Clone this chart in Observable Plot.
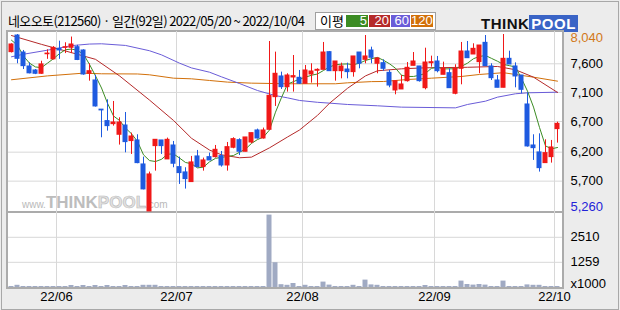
<!DOCTYPE html>
<html><head><meta charset="utf-8">
<script src="https://cdn.jsdelivr.net/npm/d3@7"></script>
<script src="https://cdn.jsdelivr.net/npm/@observablehq/plot@0.6"></script>
<style>
body{margin:0;background:#fff;}
#wrap{position:relative;width:620px;height:310px;background:#ececec;overflow:hidden;font-family:"Liberation Sans",Arial,sans-serif;}
#outer{position:absolute;left:1px;top:1px;width:618px;height:309px;border:1px solid #a8a8a8;box-sizing:border-box;}
#title{position:absolute;left:8px;top:12px;font:13px "Noto Sans CJK KR",sans-serif;letter-spacing:-0.6px;color:#000;white-space:nowrap;line-height:18px;}
#panel{position:absolute;left:6px;top:30px;width:558px;height:259px;border:2px solid #ababab;background:#fff;box-sizing:border-box;}
#divider{position:absolute;left:8px;top:211px;width:554px;height:2px;background:#ababab;}
#legend{position:absolute;left:315px;top:12px;width:121px;height:18px;border:1px solid #a0a0a0;background:#fff;box-sizing:border-box;}
#legend .lb{position:absolute;left:4px;top:-1px;font:13px "Noto Sans CJK KR",sans-serif;line-height:17px;}
#legend .sw{position:absolute;top:2px;height:12px;color:#fff;font:13px "Liberation Sans",sans-serif;line-height:12px;text-align:right;padding-right:1px;box-sizing:border-box;}
#logo{position:absolute;left:481px;top:15px;height:14px;white-space:nowrap;font-weight:bold;font-family:"Liberation Sans",sans-serif;}
#logo .t{color:#111;font-size:15px;letter-spacing:0.5px;}
#logo .p{background:#3a64c6;color:#fff;font-size:15px;padding:0 2px;letter-spacing:0.5px;}
#wm{position:absolute;left:22px;top:193px;white-space:nowrap;font-family:"Liberation Sans",sans-serif;font-weight:bold;color:#bdbdbd;}
#wm .s{font-size:10px;font-weight:normal;color:#b9b9b9;}
#wm .b{font-size:17px;}
#wm .o{font-size:17px;color:#e2e2e2;-webkit-text-stroke:0.6px #b8b8b8;}
.plot{position:absolute;left:0;}
</style></head>
<body>
<div id="wrap">
  <div id="outer"></div>
  <div id="title">네오오토(212560) · 일간(92일) 2022/05/20 ~ 2022/10/04</div>
  <div id="legend">
    <span class="lb">이평</span>
    <span class="sw" style="left:30px;width:22px;background:#3c8c24">5</span>
    <span class="sw" style="left:53px;width:21px;background:#b52a2a">20</span>
    <span class="sw" style="left:75px;width:19px;background:#6a5cd8">60</span>
    <span class="sw" style="left:95px;width:22px;background:#d2700a">120</span>
  </div>
  <div id="logo"><span class="t">THINK</span><span class="p">POOL</span></div>
  <div id="panel"></div>
  <div id="wm"><span class="s">www.</span><span class="b">THINK</span><span class="o">POOL</span><span class="s">.com</span></div>
  <div id="divider"></div>
  <div id="price" class="plot" style="top:31px"></div>
  <div id="vol" class="plot" style="top:212px"></div>
</div>
<script>
// ---- data (trading days 2022/05/20 .. 2022/10/04, index 0..91) ----
const open = [7763,8024,7757,7538,7475,7423,7730,7650,7815,7830,7831,7841,7789,7423,7318,6860,6680,6632,6465,6611,
  6366,6376,5999,5261,6287,6376,6078,6297,5957,5874,5722,6125,5957,6114,6114,6130,5983,6261,6381,6198,
  6344,6533,6407,6543,7056,7381,7213,7365,7360,7266,7412,7470,7485,7763,7464,7464,7490,7449,7757,7642,
  7789,7580,7590,7438,7161,7177,7307,7548,7538,7197,7590,7616,7407,7433,7109,7501,7773,7726,7606,7909,
  7538,7318,7203,7658,7538,7396,6941,6297,6188,6020,6114,6554];
const high = [7894,8040,7789,7595,7490,7620,7800,7850,7935,7910,8000,7870,7800,7580,7400,6860,7014,6988,6732,6815,
  6491,6465,6114,5879,6386,6376,6413,6360,6114,5947,6125,6219,6099,6177,6297,6203,6344,6418,6402,6423,
  6491,6554,6570,7930,7763,7449,7423,7710,7475,7553,7580,7501,7915,7773,7616,7590,7590,7695,7757,8024,
  7841,7674,7642,7475,7307,7396,7600,7757,7538,7825,7700,7695,7606,7501,7564,7915,7930,7894,7867,8024,
  7580,7396,8040,7778,7595,7396,7124,6465,6480,6386,6376,6663];
const low = [7750,7580,7490,7422,7410,7415,7650,7640,7650,7740,7740,7630,7400,7307,6900,6418,6522,6601,6303,6182,
  6156,6010,5600,5260,5894,6156,6078,5947,5685,5612,5722,5947,5894,6062,6099,5957,5894,6245,6140,6198,
  6323,6397,6397,6543,6910,7177,7135,7135,7255,7266,7276,7213,7485,7464,7307,7344,7344,7370,7501,7580,
  7580,7423,7464,7203,7093,7177,7292,7548,7292,7171,7527,7438,7407,7197,7093,7250,7668,7726,7423,7543,
  7318,7203,7203,7569,7203,7109,6271,6062,5879,6020,6020,6334];
const close = [7883,7658,7543,7430,7423,7570,7740,7830,7790,7840,7883,7640,7412,7464,6910,6848,6601,6658,6658,6350,
  6438,6020,5607,5842,6386,6287,6386,6010,5863,5769,6031,5957,6062,6062,6229,5983,6271,6397,6198,6423,
  6491,6407,6533,7077,7423,7213,7396,7386,7266,7475,7459,7485,7757,7464,7616,7538,7449,7695,7580,7695,
  7674,7663,7501,7239,7307,7255,7517,7616,7307,7600,7605,7464,7501,7197,7501,7773,7668,7815,7867,7543,
  7354,7203,7658,7569,7381,7171,6282,6255,5941,6177,6266,6637];
// volume, x1000 shares
const volume = [50,110,50,50,50,50,50,50,50,50,100,50,100,50,100,50,100,50,50,100,
  50,50,110,110,110,50,50,50,50,50,50,50,50,50,50,50,50,50,50,50,
  50,50,50,3620,1240,140,110,200,50,110,50,50,270,120,50,50,50,110,50,370,
  130,110,50,50,50,50,50,50,50,100,50,50,50,50,50,320,150,120,150,120,
  50,50,320,50,50,50,130,110,110,50,50,50];
// moving averages
const ma5 = [7950,7870,7700,7590,7530,7520,7590,7660,7740,7800,7812,7790,7730,7570,7390,7200,6960,6760,6690,6570,
  6481,6360,6150,6060,6045,6080,6160,6165,6100,6030,6010,5945,5957,6040,6095,6110,6125,6140,6190,6240,
  6330,6390,6430,6540,6820,7050,7260,7300,7340,7370,7400,7420,7475,7530,7565,7575,7578,7566,7590,7632,
  7660,7680,7635,7580,7510,7400,7381,7381,7400,7430,7510,7525,7500,7501,7501,7540,7590,7660,7695,7710,
  7665,7620,7570,7550,7530,7350,7150,6900,6580,6290,6245,6265];
const ma20Idx = [0,5,10,14,18,23,27,30,33,35,38,40,43,46,48,51,53,56,59,61,65,69,76,81,84,87,91];
const ma20Val = [8024,7885,7755,7650,7390,7010,6690,6410,6225,6150,6104,6114,6260,6430,6540,6770,6960,7195,7390,7470,7501,7517,7525,7538,7486,7370,7130];
const ma60Idx = [0,2,7,10,13,15,19,23,25,28,30,33,35,38,41,44,46,48,51,53,56,61,65,74,76,79,81,84,86,91];
const ma60Val = [7690,7730,7810,7865,7890,7894,7868,7785,7720,7590,7515,7448,7375,7270,7160,7080,7045,7004,6975,6962,6941,6920,6899,6888,6941,6993,7056,7109,7124,7134];
const ma120Idx = [0,6,12,15,21,23,27,30,33,36,40,46,54,56,60,62,66,70,75,78,82,84,87,91];
const ma120Val = [7329,7390,7433,7423,7420,7407,7354,7344,7318,7292,7276,7266,7266,7281,7300,7302,7333,7354,7381,7412,7440,7412,7370,7307];
// axes
const priceMax = 8040, priceMin = 5260;
const yTickVals = [7580, 7129, 6674, 6192, 5737];
const yTickLabels = ["7,600", "7,100", "6,700", "6,200", "5,700"];
const volTickVals = [2510, 1259];
const volTickLabels = ["2510", "1259"];
const monthStartIdx = [8, 28, 49, 71, 91];
const monthLabels = ["22/06", "22/07", "22/08", "22/09", "22/10"];

// ---- drawing ----
const UP = "#f01818", DOWN = "#1e5ae0", GRID = "#d8d8d8";
const xDomain = [-0.5, 551/6];
const candles = open.map((o, i) => ({i, o, h: high[i], l: low[i], c: close[i], v: volume[i], col: close[i] >= o ? UP : DOWN}));
const line = (idx, val, color) => Plot.line(idx.map((d, k) => ({i: d, v: val[k]})), {x: "i", y: "v", stroke: color, strokeWidth: 1});
const font = {fontFamily: "Liberation Sans, Arial, sans-serif", fontSize: 13};

const price = Plot.plot({
  width: 620, height: 182, marginLeft: 8, marginRight: 58, marginTop: 3, marginBottom: 2,
  style: {background: "transparent", overflow: "visible", ...font},
  x: {domain: xDomain, axis: null},
  y: {domain: [priceMin, priceMax], axis: null},
  color: {type: "identity"},
  marks: [
    Plot.ruleY(yTickVals, {stroke: GRID}),
    Plot.ruleX(monthStartIdx, {x: d => d - 0.5, stroke: GRID, insetTop: -3, insetBottom: -2}),
    line(ma120Idx, ma120Val, "#d2700a"),
    line(ma60Idx, ma60Val, "#6a5cd8"),
    line(ma20Idx, ma20Val, "#b52a2a"),
    Plot.line(ma5, {x: (d, i) => i, y: d => d, stroke: "#3c8c24", strokeWidth: 1}),
    Plot.ruleX(candles, {x: "i", y1: "l", y2: "h", stroke: "col"}),
    Plot.rect(candles, {x1: d => d.i - 5/12, x2: d => d.i + 5/12, y1: "o", y2: "c", fill: "col", insetTop: -0.5, insetBottom: -0.5}),
    Plot.text(yTickVals, {y: d => d, frameAnchor: "right", text: (d, k) => yTickLabels[k], textAnchor: "start", dx: 8, fill: "#000"}),
    Plot.text([priceMax], {y: d => d, frameAnchor: "right", text: d => d3.format(",")(d), textAnchor: "start", dx: 8, dy: 3, fill: "#d27818"}),
    Plot.text([priceMin], {y: d => d, frameAnchor: "right", text: d => d3.format(",")(d), textAnchor: "start", dx: 8, dy: -5, fill: "#2323d8"})
  ]
});
document.getElementById("price").appendChild(price);

const vol = Plot.plot({
  width: 620, height: 98, marginLeft: 8, marginRight: 58, marginTop: 0, marginBottom: 23,
  style: {background: "transparent", overflow: "visible", ...font},
  x: {domain: xDomain, axis: null},
  y: {domain: [0, 3750], axis: null},
  marks: [
    Plot.ruleY(volTickVals, {stroke: GRID}),
    Plot.ruleX(monthStartIdx, {x: d => d - 0.5, stroke: GRID}),
    Plot.rect(candles, {x1: d => d.i - 5/12, x2: d => d.i + 5/12, y1: 0, y2: "v", fill: "#a0aac3"}),
    Plot.text(volTickVals, {y: d => d, frameAnchor: "right", text: (d, k) => volTickLabels[k], textAnchor: "start", dx: 8, fill: "#000"}),
    Plot.text(["x1000"], {frameAnchor: "bottom-right", text: d => d, textAnchor: "start", dx: 8, fill: "#000"}),
    Plot.text(monthStartIdx, {x: d => d - 0.5, frameAnchor: "bottom", text: (d, k) => monthLabels[k], dy: 13, fill: "#000"})
  ]
});
document.getElementById("vol").appendChild(vol);
</script>
</body></html>
